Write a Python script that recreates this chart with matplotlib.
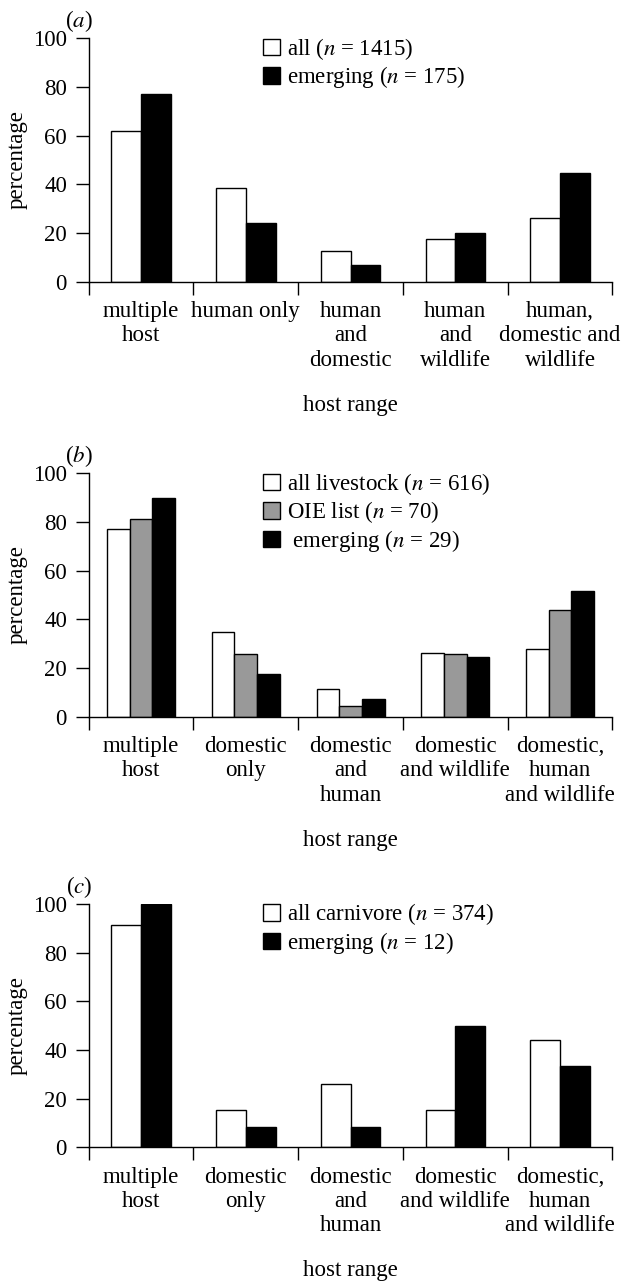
import matplotlib
matplotlib.use("Agg")
import matplotlib.pyplot as plt
import numpy as np

plt.rcParams["font.family"] = ["Liberation Serif", "DejaVu Serif"]
plt.rcParams["mathtext.fontset"] = "stix"

# panel (a)
cats_a = ["multiple\nhost", "human only", "human\nand\ndomestic",
          "human\nand\nwildlife", "human,\ndomestic and\nwildlife"]
all_a = [62, 38.5, 12.8, 17.5, 26]
emerging_a = [77.1, 24, 6.9, 20, 44.6]
legend_a = ["all ($n$ = 1415)", "emerging ($n$ = 175)"]

# panel (b)
cats_bc = ["multiple\nhost", "domestic\nonly", "domestic\nand\nhuman",
           "domestic\nand wildlife", "domestic,\nhuman\nand wildlife"]
livestock_b = [77.1, 34.7, 11.2, 26.2, 27.7]
oie_b = [81.3, 25.7, 4.2, 25.7, 43.8]
emerging_b = [90, 17.4, 7.2, 24.6, 51.7]
legend_b = ["all livestock ($n$ = 616)", "OIE list ($n$ = 70)", " emerging ($n$ = 29)"]

# panel (c)
carnivore_c = [91.4, 15.4, 26.1, 15.4, 43.9]
emerging_c = [100, 8.3, 8.3, 50, 33.3]
legend_c = ["all carnivore ($n$ = 374)", "emerging ($n$ = 12)"]

FS = 16.5
fig = plt.figure(figsize=(6.22, 12.81), dpi=100)
H = 1281.0
left = 88.7 / 622
width = 523.8 / 622
height = 243.4 / H
ax_a = fig.add_axes([left, 1 - 281.7 / H, width, height])
ax_b = fig.add_axes([left, 1 - 716.7 / H, width, height])
ax_c = fig.add_axes([left, 1 - 1147.3 / H, width, height])


def panel(ax, tag, cats, series, colors, labels, bw):
    x = np.arange(len(cats))
    k = len(series)
    bars = []
    for i, (vals, col) in enumerate(zip(series, colors)):
        off = (i - (k - 1) / 2) * bw
        b = ax.bar(x + off, vals, bw, color=col, edgecolor="black", linewidth=1.0)
        bars.append(b)
    ax.set_xlim(-0.5, len(cats) - 0.5)
    ax.set_ylim(0, 100)
    ax.spines["top"].set_visible(False)
    ax.spines["right"].set_visible(False)
    ax.spines["left"].set_linewidth(1.0)
    ax.spines["bottom"].set_linewidth(1.0)
    ax.set_yticks([0, 20, 40, 60, 80, 100])
    ax.tick_params(axis="y", direction="out", length=9.2, width=1.0, pad=6.5, labelsize=FS)
    ax.set_xticks(np.arange(len(cats) + 1) - 0.5)
    ax.set_xticklabels([])
    ax.tick_params(axis="x", which="major", direction="out", length=9.4, width=1.0)
    ax.set_xticks(x, minor=True)
    ax.set_xticklabels(cats, minor=True, fontsize=FS, linespacing=1.2)
    ax.tick_params(axis="x", which="minor", length=0, pad=14)
    ax.text(-71.2 / 523.8, 0.5, "percentage", transform=ax.transAxes,
            rotation=90, ha="center", va="center", fontsize=FS)
    ax.text(0.5, -123.5 / 243.4, "host range", transform=ax.transAxes,
            ha="center", va="center", fontsize=FS)
    ax.text(-9.7 / 523.8, 1 + 17 / 243.4, "(" + tag + ")", transform=ax.transAxes,
            ha="center", va="center", fontsize=FS)
    ax.legend(bars, labels, loc="upper left", bbox_to_anchor=(0.333, 1.0 + 2.5 / 243.4),
              frameon=False, fontsize=FS, handlelength=0.72, handleheight=0.72,
              handletextpad=0.3, labelspacing=0.12, borderpad=0, borderaxespad=0)


panel(ax_a, "$a$", cats_a, [all_a, emerging_a], ["white", "black"], legend_a, 0.285)
panel(ax_b, "$b$", cats_bc, [livestock_b, oie_b, emerging_b],
      ["white", "0.6", "black"], legend_b, 0.217)
panel(ax_c, "$c$", cats_bc, [carnivore_c, emerging_c], ["white", "black"], legend_c, 0.285)

fig.savefig("out.png", dpi=100)
